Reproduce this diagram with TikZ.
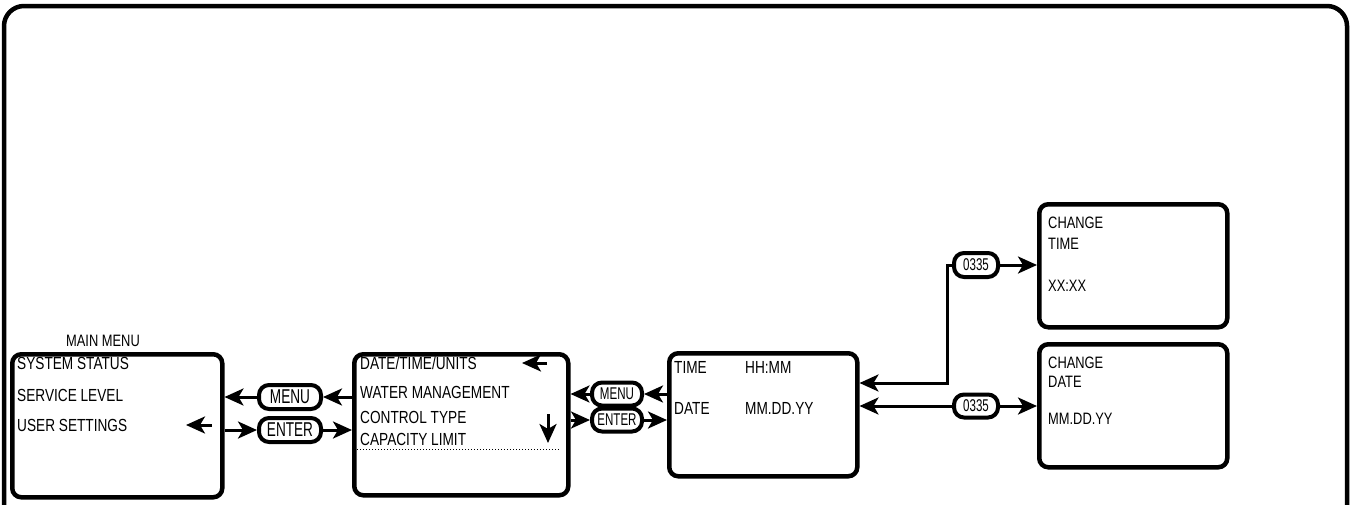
\documentclass[tikz,border=0pt]{standalone}
\usepackage{fontspec}
\setmainfont{Liberation Sans}
\newfontfamily\gf[FakeStretch=0.78]{Liberation Sans}
\newfontfamily\gn[FakeStretch=0.68]{Liberation Sans}
\usetikzlibrary{arrows.meta}
\begin{document}
\begin{tikzpicture}[x=1pt,y=-1pt,
  screen/.style={draw, line width=4.5pt, rounded corners=9pt, anchor=north west, inner sep=0pt},
  btn/.style={draw, line width=4pt, rounded corners=10pt, fill=white, inner sep=1pt, minimum height=24pt},
  arr/.style={line width=3pt, -{Stealth[length=19pt,width=17pt,inset=5pt]}},
  lbl/.style={anchor=base west, inner sep=0pt, font=\gf\fontsize{17.5}{17.5}\selectfont},
  slbl/.style={anchor=base west, inner sep=0pt, font=\gf\fontsize{16.5}{16.5}\selectfont}]
\useasboundingbox (0,0) rectangle (1351,504);
% outer frame
\draw[line width=4.5pt, rounded corners=20pt] (4,510) -- (4,6) -- (1347,6) -- (1347,510);

% screens
\node[screen, minimum width=210pt, minimum height=143pt] (b1) at (10,352) {};
\node[screen, minimum width=214pt, minimum height=141pt] (b2) at (352,352) {};
\node[screen, minimum width=188pt, minimum height=123pt] (b3) at (667,351) {};
\node[screen, minimum width=188pt, minimum height=123pt] (b4) at (1037,202) {};
\node[screen, minimum width=188pt, minimum height=123pt] (b5) at (1037,342) {};

% screen texts
\node[anchor=base, inner sep=0pt, font=\gf\fontsize{16.5}{16.5}\selectfont] (mm) at (103,346) {MAIN MENU};
\node[lbl] (t11) at (17,369) {SYSTEM STATUS};
\node[lbl] (t12) at (17,401) {SERVICE LEVEL};
\node[lbl] (t13) at (17,431) {USER SETTINGS};

\node[lbl] (t21) at (360,369) {DATE/TIME/UNITS};
\node[lbl] (t22) at (360,398) {WATER MANAGEMENT};
\node[lbl] (t23) at (360,423) {CONTROL TYPE};
\node[lbl] (t24) at (360,445) {CAPACITY LIMIT};
\draw[dotted, line width=1pt] (357,449) -- (560,449);

\node[lbl] (t31) at (674,373) {TIME};
\node[lbl] (t32) at (745,373) {HH:MM};
\node[lbl] (t33) at (674,414) {DATE};
\node[lbl] (t34) at (745,414) {MM.DD.YY};

\node[slbl] (t41) at (1048,228) {CHANGE};
\node[slbl] (t42) at (1048,249) {TIME};
\node[slbl] (t43) at (1048,291) {XX:XX};

\node[slbl] (t51) at (1048,368) {CHANGE};
\node[slbl] (t52) at (1048,387) {DATE};
\node[slbl] (t53) at (1048,424) {MM.DD.YY};

% cursor arrows inside screens
\coordinate (c1a) at (212,425); \coordinate (c1b) at (186,425);
\draw[arr] (c1a) -- (c1b);
\coordinate (c2a) at (547,363); \coordinate (c2b) at (522,363);
\draw[arr] (c2a) -- (c2b);
\coordinate (c3a) at (548,414); \coordinate (c3b) at (548,443);
\draw[arr] (c3a) -- (c3b);

% buttons
\node[btn, minimum width=62pt, font=\gn\fontsize{20}{20}\selectfont] (menu1) at (290,397) {MENU};
\node[btn, minimum width=62pt, font=\gn\fontsize{20}{20}\selectfont] (enter1) at (290,430) {ENTER};
\node[btn, minimum width=50pt, minimum height=23pt, font=\gn\fontsize{17}{17}\selectfont] (menu2) at (617,394) {MENU};
\node[btn, minimum width=50pt, minimum height=23pt, font=\gn\fontsize{17}{17}\selectfont] (enter2) at (617,420) {ENTER};
\node[btn, minimum width=44pt, minimum height=24pt, font=\gn\fontsize{17}{17}\selectfont] (k1) at (976,265) {0335};
\node[btn, minimum width=44pt, minimum height=23pt, font=\gn\fontsize{17}{17}\selectfont] (k2) at (976,406) {0335};

% connectors
\draw[arr] (menu1.west) -- (menu1.west -| b1.east);
\draw[arr] (menu1.east -| b2.west) -- (menu1.east);
\draw[arr] (enter1.west -| b1.east) -- (enter1.west);
\draw[arr] (enter1.east) -- (enter1.east -| b2.west);

\draw[arr] (menu2.west) -- (menu2.west -| b2.east);
\draw[arr] (menu2.east -| b3.west) -- (menu2.east);
\draw[arr] (enter2.west -| b2.east) -- (enter2.west);
\draw[arr] (enter2.east) -- (enter2.east -| b3.west);

\coordinate (j1) at (947,265);
\coordinate (j2) at (947,383);
\draw[arr] (k1.west) -- (j1) -- (j2) -- (j2 -| b3.east);
\draw[arr] (k1.east) -- (k1.east -| b4.west);
\draw[arr] (k2.west) -- (k2.west -| b3.east);
\draw[arr] (k2.east) -- (k2.east -| b5.west);
\end{tikzpicture}
\end{document}
